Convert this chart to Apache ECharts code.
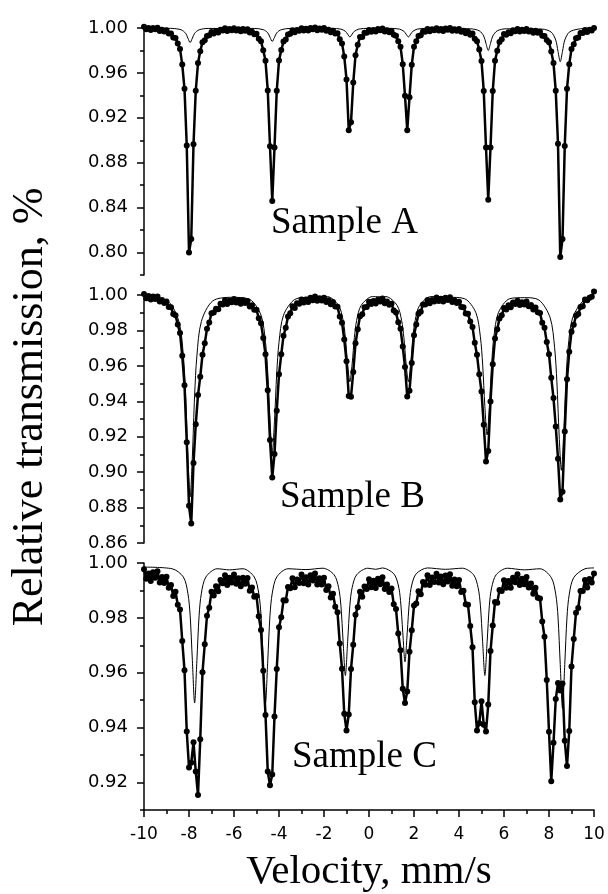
<!DOCTYPE html>
<html>
<head>
<meta charset="utf-8">
<script src="https://cdn.jsdelivr.net/npm/echarts@6/dist/echarts.min.js"></script>
<style>
html,body{margin:0;padding:0;background:#fff;}
#chart{width:608px;height:894px;}
</style>
</head>
<body>
<div id="chart"></div>
<script>
// Velocity channels (mm/s)
const velocity = [-10,-9.9,-9.8,-9.7,-9.6,-9.5,-9.4,-9.3,-9.2,-9.1,
-9,-8.9,-8.8,-8.7,-8.6,-8.5,-8.4,-8.3,-8.2,-8.1,
-8,-7.9,-7.8,-7.7,-7.6,-7.5,-7.4,-7.3,-7.2,-7.1,
-7,-6.9,-6.8,-6.7,-6.6,-6.5,-6.4,-6.3,-6.2,-6.1,
-6,-5.9,-5.8,-5.7,-5.6,-5.5,-5.4,-5.3,-5.2,-5.1,
-5,-4.9,-4.8,-4.7,-4.6,-4.5,-4.4,-4.3,-4.2,-4.1,
-4,-3.9,-3.8,-3.7,-3.6,-3.5,-3.4,-3.3,-3.2,-3.1,
-3,-2.9,-2.8,-2.7,-2.6,-2.5,-2.4,-2.3,-2.2,-2.1,
-2,-1.9,-1.8,-1.7,-1.6,-1.5,-1.4,-1.3,-1.2,-1.1,
-1,-0.9,-0.8,-0.7,-0.6,-0.5,-0.4,-0.3,-0.2,-0.1,
0,0.1,0.2,0.3,0.4,0.5,0.6,0.7,0.8,0.9,
1,1.1,1.2,1.3,1.4,1.5,1.6,1.7,1.8,1.9,
2,2.1,2.2,2.3,2.4,2.5,2.6,2.7,2.8,2.9,
3,3.1,3.2,3.3,3.4,3.5,3.6,3.7,3.8,3.9,
4,4.1,4.2,4.3,4.4,4.5,4.6,4.7,4.8,4.9,
5,5.1,5.2,5.3,5.4,5.5,5.6,5.7,5.8,5.9,
6,6.1,6.2,6.3,6.4,6.5,6.6,6.7,6.8,6.9,
7,7.1,7.2,7.3,7.4,7.5,7.6,7.7,7.8,7.9,
8,8.1,8.2,8.3,8.4,8.5,8.6,8.7,8.8,8.9,
9,9.1,9.2,9.3,9.4,9.5,9.6,9.7,9.8,9.9,
10];

// Sample A measured transmission
const transA = [1.0011,.9989,1.0000,.9982,1.0001,.9988,1.0002,.9974,.9985,.9969,
.998,.995,.9951,.9916,.9912,.9862,.9814,.9674,.9458,.8954,
.800,.812,.8964,.944,.9688,.9793,.9874,.989,.9929,.9935,
.9964,.9951,.9973,.9961,.9985,.9978,.9997,.9974,.999,.9979,
.9998,.9977,.9989,.997,.999,.9975,.9989,.9959,.9967,.9945,
.9949,.9905,.9881,.9801,.9708,.9444,.8946,.846,.8935,.9441,
.971,.9803,.9879,.9898,.9942,.9948,.9979,.9962,.9983,.9976,
.9997,.9978,.9993,.9977,.9999,.9988,1.0005,.9981,.9995,.9984,
.9999,.9976,.9985,.9963,.9976,.9952,.9953,.99,.9863,.9747,
.9542,.909,.916,.9514,.9757,.9851,.9919,.992,.9957,.9958,
.9983,.9967,.9983,.9968,.999,.9979,.9995,.9968,.998,.9963,
.9973,.994,.9932,.9881,.9833,.9678,.9396,.909,.9384,.9672,
.9834,.9881,.9928,.9935,.9969,.9967,.999,.997,.9988,.9979,
.9998,.9978,.9991,.9974,.9995,.9984,1.0,.9975,.9989,.9976,
.9992,.9967,.9976,.9953,.9966,.994,.9952,.9905,.9882,.9808,
.9707,.9438,.8936,.847,.8935,.9439,.9708,.9798,.9875,.99,
.9947,.994,.9963,.9954,.998,.9972,.9992,.9968,.9985,.9974,
.999,.9968,.9978,.9958,.9975,.9958,.9967,.9931,.9929,.9893,
.9873,.9791,.9688,.944,.8968,.796,.812,.895,.9458,.9678,
.9812,.9856,.9908,.9916,.9955,.9956,.9982,.9965,.9985,.9978,
1.0];

// Sample B measured transmission
const transB = [1.0005,.9982,.9994,.9974,.9992,.9978,.9991,.9963,.9972,.9955,
.9964,.9932,.9931,.9893,.9886,.9833,.9786,.9657,.949,.9169,
.881,.871,.9052,.927,.9435,.9539,.9663,.9728,.9809,.9845,
.9897,.9901,.9923,.9919,.995,.9946,.997,.9949,.9967,.9959,
.9977,.9957,.9969,.9951,.997,.9955,.9966,.9935,.9942,.9917,
.9917,.9869,.984,.9757,.9666,.9462,.9181,.897,.9103,.9347,
.9552,.9665,.977,.9815,.9879,.9897,.9936,.9927,.9953,.9951,
.9975,.9958,.9974,.9961,.9985,.9971,.9991,.9967,.9981,.9969,
.9985,.9961,.997,.9948,.996,.9935,.9934,.9878,.9844,.9749,
.9626,.943,.9425,.9566,.9728,.9807,.988,.9891,.9931,.9932,
.9962,.9949,.9966,.9952,.9973,.9963,.998,.9953,.9963,.9945,
.9951,.9913,.9901,.9846,.981,.9709,.9594,.9427,.946,.9616,
.9773,.9834,.9894,.9906,.9946,.9947,.9972,.9954,.9972,.9964,
.9986,.9966,.9979,.9963,.9984,.9972,.9987,.9961,.9971,.9955,
.9962,.9932,.9931,.9896,.9894,.985,.982,.973,.9662,.9552,
.9455,.9267,.906,.912,.9399,.9609,.9755,.9807,.9868,.9886,
.9926,.9918,.9942,.9931,.9957,.9949,.9968,.9944,.9959,.9947,
.9964,.9937,.9944,.9918,.9929,.9902,.9898,.9843,.9815,.9734,
.9666,.9533,.9418,.9258,.9076,.8845,.889,.9229,.9525,.9679,
.9793,.9832,.9883,.9893,.9932,.9936,.9975,.997,.9985,.999,
1.002];

// Sample C measured transmission
const transC = [.9977,.9943,.9962,.9934,.9966,.9946,.997,.9929,.9949,.9927,
.995,.991,.992,.988,.9895,.9848,.9831,.9716,.9609,.9386,
.9255,.9272,.9347,.924,.9155,.9358,.9602,.9704,.9808,.9837,
.9895,.9882,.9915,.9897,.9938,.9926,.9955,.992,.9946,.9929,
.9958,.9924,.9944,.9915,.9946,.9924,.9945,.9899,.9911,.9877,
.988,.9806,.9756,.9607,.9446,.924,.919,.9229,.9441,.9614,
.9766,.9802,.9864,.9863,.9913,.9908,.9944,.9912,.994,.9927,
.9958,.9926,.9948,.9922,.9955,.9936,.9962,.9922,.9944,.9922,
.9946,.9902,.9915,.9874,.9888,.9841,.9821,.9707,.9615,.9451,
.939,.9448,.9614,.9702,.9811,.9839,.9895,.9877,.9914,.9905,
.9941,.9912,.9935,.9909,.9943,.9923,.9948,.9905,.9922,.9894,
.9907,.985,.9832,.9743,.9682,.9542,.949,.9532,.9677,.9755,
.9845,.9852,.9897,.9886,.9931,.9921,.9955,.992,.9947,.9931,
.9961,.9929,.9951,.9923,.9954,.9933,.9959,.9917,.994,.9915,
.9938,.9894,.9899,.985,.9848,.977,.9693,.9493,.939,.9416,
.9496,.9411,.9386,.9484,.9679,.9772,.9858,.9855,.9902,.9898,
.9937,.991,.9934,.991,.9946,.993,.9959,.992,.9943,.9923,
.9949,.9911,.9925,.9888,.991,.9873,.9871,.9787,.9731,.9574,
.9385,.9205,.9345,.9504,.9563,.9535,.9561,.9352,.926,.9388,
.9623,.9723,.9819,.9836,.9898,.9898,.9938,.9911,.9942,.9929,
.9962];

// Fitted sub-spectrum curves [velocity, transmission]
const subA = [[-10,1.0],[-8.75,.9996],[-8.35,.9984],[-8.15,.9953],[-8.05,.991],[-7.95,.987],[-7.85,.991],[-7.75,.9953],[-7.55,.9984],[-7.15,.9996],
[-5.1,.9996],[-4.7,.9985],[-4.5,.9957],[-4.4,.9917],[-4.3,.988],[-4.2,.9917],[-4.1,.9957],[-3.9,.9985],[-3.5,.9996],
[-1.65,.9997],[-1.25,.999],[-1.05,.9971],[-0.95,.9945],[-0.85,.992],[-0.75,.9945],[-0.65,.9971],[-0.45,.999],[-0.05,.9997],
[0.95,.9997],[1.35,.999],[1.55,.9971],[1.65,.9945],[1.75,.992],[1.85,.9945],[1.95,.9971],[2.15,.999],[2.55,.9997],
[4.5,.9993],[4.9,.9975],[5.1,.9928],[5.2,.9862],[5.3,.98],[5.4,.9862],[5.5,.9928],[5.7,.9975],[6.1,.9993],
[7.7,.999],[8.1,.9963],[8.3,.9892],[8.4,.9792],[8.5,.97],[8.6,.9792],[8.7,.9892],[8.9,.9963],[9.3,.999],[10,1.0]];

const subB = [[-10,.9993],[-8.95,.9966],[-8.45,.9851],[-8.25,.9656],[-8.15,.9435],[-8.05,.909],[-7.95,.886],[-7.85,.909],[-7.75,.9435],[-7.65,.9656],[-7.45,.9851],[-6.95,.9966],
[-6.1,.9987],[-5.3,.9975],[-4.8,.9886],[-4.6,.9733],[-4.5,.956],[-4.4,.929],[-4.3,.911],[-4.2,.929],[-4.1,.956],[-4.0,.9733],[-3.8,.9886],[-3.3,.9975],
[-2.6,.9988],[-1.85,.9991],[-1.35,.9941],[-1.15,.9856],[-1.05,.976],[-0.95,.961],[-0.85,.951],[-0.75,.961],[-0.65,.976],[-0.55,.9856],[-0.35,.9941],[0.15,.9991],
[0.45,.999],[0.75,.9991],[1.25,.9941],[1.45,.9856],[1.55,.976],[1.65,.961],[1.75,.951],[1.85,.961],[1.95,.976],[2.05,.9856],[2.25,.9941],[2.75,.9991],
[3.5,.9988],[4.25,.9979],[4.75,.990],[4.95,.9764],[5.05,.961],[5.15,.937],[5.25,.921],[5.35,.937],[5.45,.961],[5.55,.9764],[5.75,.990],[6.25,.9979],
[6.9,.9985],[7.55,.9972],[8.05,.9872],[8.25,.9702],[8.35,.951],[8.45,.921],[8.55,.901],[8.65,.921],[8.75,.951],[8.85,.9702],[9.05,.9872],[9.55,.9972],[10,.9991]];

const subC = [[-10,.9985],[-8.75,.9979],[-8.25,.9949],[-8.05,.989],[-7.95,.981],[-7.85,.9644],[-7.75,.949],[-7.65,.9644],[-7.55,.981],[-7.45,.989],[-7.25,.9949],[-6.75,.9979],
[-6.2,.9975],[-5.6,.9979],[-5.1,.9949],[-4.9,.989],[-4.8,.981],[-4.7,.9644],[-4.6,.949],[-4.5,.9644],[-4.4,.981],[-4.3,.989],[-4.1,.9949],[-3.6,.9979],
[-2.8,.9976],[-2.05,.9981],[-1.55,.9957],[-1.35,.991],[-1.25,.9846],[-1.15,.9713],[-1.05,.959],[-0.95,.9713],[-0.85,.9846],[-0.75,.991],[-0.55,.9957],[-0.05,.9981],
[0.3,.9977],[0.6,.9982],[1.1,.9961],[1.3,.992],[1.4,.9864],[1.5,.9748],[1.6,.964],[1.7,.9748],[1.8,.9864],[1.9,.992],[2.1,.9961],[2.6,.9982],
[3.4,.9977],[4.15,.9981],[4.65,.9957],[4.85,.991],[4.95,.9846],[5.05,.9713],[5.15,.959],[5.25,.9713],[5.35,.9846],[5.45,.991],[5.65,.9957],[6.15,.9981],
[6.9,.9975],[7.6,.9979],[8.1,.9947],[8.3,.9886],[8.4,.9803],[8.5,.963],[8.6,.947],[8.7,.963],[8.8,.9803],[8.9,.9886],[9.1,.9947],[9.6,.9979],[10,.9982]];

// Tick labels
const yTicksA = [0.80,0.84,0.88,0.92,0.96,1.00];
const yMinorA = [0.78,0.82,0.86,0.90,0.94,0.98];
const yTicksB = [0.86,0.88,0.90,0.92,0.94,0.96,0.98,1.00];
const yMinorB = [0.87,0.89,0.91,0.93,0.95,0.97,0.99];
const yTicksC = [0.92,0.94,0.96,0.98,1.00];
const yMinorC = [0.91,0.93,0.95,0.97,0.99];
const sampleNames = ['Sample A','Sample B','Sample C'];
const yTitle = 'Relative transmission, %';
const xTitle = 'Velocity, mm/s';

const BLACK = '#000';
const grids = [
  {left:144, width:450, top:28, height:247},
  {left:144, width:450, top:295, height:248},
  {left:144, width:450, top:563, height:247}
];
const ranges = [[0.78,1.0],[0.86,1.0],[0.91,1.0]];
const majors = [yTicksA, yTicksB, yTicksC];
const minors = [yMinorA, yMinorB, yMinorC];

const yAxes = [];
for (let g = 0; g < 3; g++) {
  yAxes.push({
    gridIndex:g, type:'value', position:'left', min:ranges[g][0], max:ranges[g][1],
    axisLine:{show:true, onZero:false, lineStyle:{color:BLACK, width:1.5}},
    axisTick:{show:true, length:7, customValues:majors[g], lineStyle:{color:BLACK, width:1.5}},
    axisLabel:{show:true, customValues:majors[g], margin:16, color:BLACK, fontFamily:'DejaVu Sans', fontSize:18,
      formatter:(v)=>Number(v).toFixed(2)},
    splitLine:{show:false}
  });
  yAxes.push({
    gridIndex:g, type:'value', position:'left', offset:0, min:ranges[g][0], max:ranges[g][1],
    axisLine:{show:false, onZero:false},
    axisTick:{show:true, length:4, customValues:minors[g], lineStyle:{color:BLACK, width:1.5}},
    axisLabel:{show:false},
    splitLine:{show:false}
  });
}

const xAxes = [0,1,2].map(g => ({
  gridIndex:g, type:'value', min:-10, max:10, interval:2, show: g === 2,
  axisLine:{show:true, onZero:false, lineStyle:{color:BLACK, width:1.5}},
  axisTick:{show:true, length:7, lineStyle:{color:BLACK, width:1.5}},
  minorTick:{show:true, splitNumber:2, length:4, lineStyle:{color:BLACK, width:1.5}},
  axisLabel:{color:BLACK, fontFamily:'DejaVu Sans', fontSize:17, margin:16},
  splitLine:{show:false}, minorSplitLine:{show:false},
  name: g === 2 ? xTitle : '', nameLocation:'middle', nameGap:42,
  nameTextStyle:{color:BLACK, fontFamily:'Liberation Serif', fontSize:41}
}));

const measured = [transA, transB, transC];
const subs = [subA, subB, subC];
const series = [];
for (let g = 0; g < 3; g++) {
  series.push({
    type:'line', xAxisIndex:g, yAxisIndex:g*2,
    data: velocity.map((v,i)=>[v, measured[g][i]]),
    symbol:'circle', symbolSize:6, showSymbol:true, showAllSymbol:true,
    itemStyle:{color:BLACK}, lineStyle:{color:BLACK, width:2.5},
    clip:false, silent:true, z:2
  });
  series.push({
    type:'line', xAxisIndex:g, yAxisIndex:g*2,
    data: subs[g], symbol:'none', smooth:0.3,
    lineStyle:{color:BLACK, width:1}, clip:false, silent:true, z:3
  });
}

const sampleX = [271, 280, 292];
const sampleY = [223, 497, 757];
const graphics = sampleNames.map((s,i)=>({
  type:'text', x:sampleX[i], y:sampleY[i],
  style:{text:s, fill:BLACK, fontFamily:'Liberation Serif', fontSize:37, align:'left', verticalAlign:'middle'}
}));
graphics.push({
  type:'text', x:30, y:407, rotation:Math.PI/2,
  style:{text:yTitle, fill:BLACK, fontFamily:'Liberation Serif', fontSize:44, align:'center', verticalAlign:'middle'}
});

const chart = echarts.init(document.getElementById('chart'), null, {renderer:'canvas'});
chart.setOption({
  animation:false,
  backgroundColor:'#fff',
  grid:grids,
  xAxis:xAxes,
  yAxis:yAxes,
  series:series,
  graphic:graphics
});
</script>
</body>
</html>
